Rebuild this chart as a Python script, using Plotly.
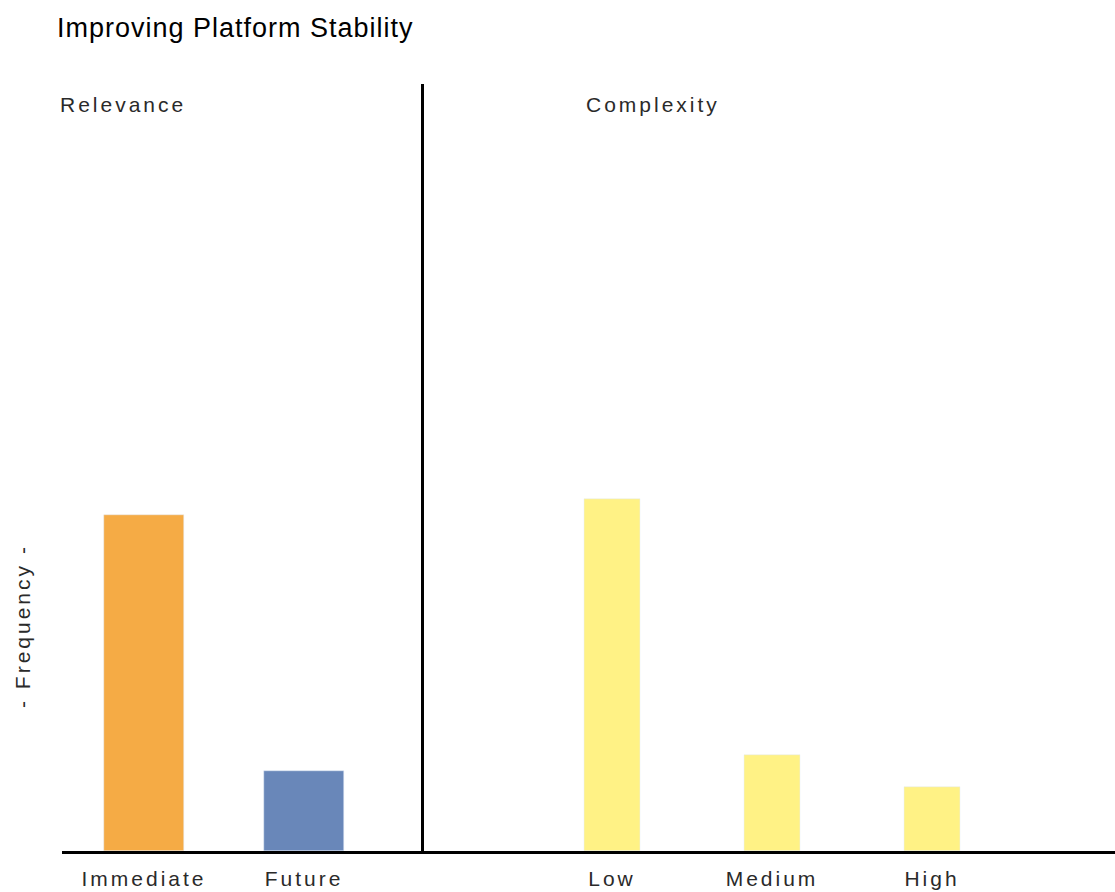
import plotly.graph_objects as go
from plotly.subplots import make_subplots

relevance_cats = ["Immediate", "Future"]
relevance_vals = [21, 5]
relevance_colors = ["#F5AB45", "#6987B9"]

complexity_cats = ["Low", "Medium", "High"]
complexity_vals = [22, 6, 4]
complexity_color = "#FFF285"

W, H = 1115, 892
ml, mr, mt, mb = 62, 0, 84, H - 851
pw = W - ml - mr
ph = H - mt - mb
LW = 2.5
split_px = 423 + LW / 2          # y-axis line is drawn just outside the domain
split = (split_px - ml) / pw
UNIT = 160.0                      # pixels per category step

left_lo = -(144 - ml) / UNIT
left_hi = left_lo + (split_px - ml) / UNIT
right_lo = -(612 - split_px) / UNIT
right_hi = right_lo + (W - mr - split_px) / UNIT


def px(x):
    return (x - ml) / pw


def py(y):
    return 1 - (y - mt) / ph


def spaced(t, sp=3):
    return f"<span style='letter-spacing:{sp}px'>{t}</span>"


LABEL_FONT = dict(family="Liberation Sans", size=21, color="#2a2a2a")

fig = make_subplots(rows=1, cols=2, shared_yaxes=True, horizontal_spacing=0,
                    column_widths=[split, 1 - split])

fig.add_trace(go.Bar(x=relevance_cats, y=relevance_vals, marker_color=relevance_colors,
                     width=0.5, showlegend=False, hoverinfo="x+y"), row=1, col=1)
fig.add_trace(go.Bar(x=complexity_cats, y=complexity_vals, marker_color=complexity_color,
                     width=0.35, showlegend=False, hoverinfo="x+y"), row=1, col=2)

fig.update_xaxes(showgrid=False, zeroline=False, showline=True, linecolor="black",
                 linewidth=LW, ticks="", tickfont=LABEL_FONT, ticklabelstandoff=7)
fig.update_xaxes(domain=[0, split], range=[left_lo, left_hi],
                 tickvals=relevance_cats, ticktext=[spaced(c) for c in relevance_cats],
                 row=1, col=1)
fig.update_xaxes(domain=[split, 1], range=[right_lo, right_hi],
                 tickvals=complexity_cats, ticktext=[spaced(c) for c in complexity_cats],
                 row=1, col=2)
fig.update_yaxes(range=[0, 48], showgrid=False, zeroline=False, showticklabels=False,
                 showline=False, ticks="")
fig.update_yaxes(showline=True, linecolor="black", linewidth=LW, row=1, col=2)

fig.add_annotation(text=spaced("Relevance"), xref="paper", yref="paper",
                   x=px(58), y=py(105), xanchor="left", yanchor="middle",
                   showarrow=False, font=LABEL_FONT)
fig.add_annotation(text=spaced("Complexity"), xref="paper", yref="paper",
                   x=px(584), y=py(105), xanchor="left", yanchor="middle",
                   showarrow=False, font=LABEL_FONT)
fig.add_annotation(text=spaced("- Frequency -"), xref="paper", yref="paper",
                   x=px(22), y=py(626), xanchor="center", yanchor="middle",
                   textangle=-90, showarrow=False, font=LABEL_FONT)

fig.update_layout(
    width=W, height=H,
    margin=dict(l=ml, r=mr, t=mt, b=mb),
    paper_bgcolor="white", plot_bgcolor="white",
    title=dict(text=spaced("Improving Platform Stability", 1.0),
               xref="container", x=57 / W,
               xanchor="left", yref="container", y=1 - 28 / H, yanchor="middle",
               font=dict(family="Liberation Sans", size=27, color="black")),
    bargap=0,
)

fig.write_html(
    "out.html",
    config={"displayModeBar": False},
    post_script="document.body.style.margin='0';document.body.style.overflow='hidden';",
)
